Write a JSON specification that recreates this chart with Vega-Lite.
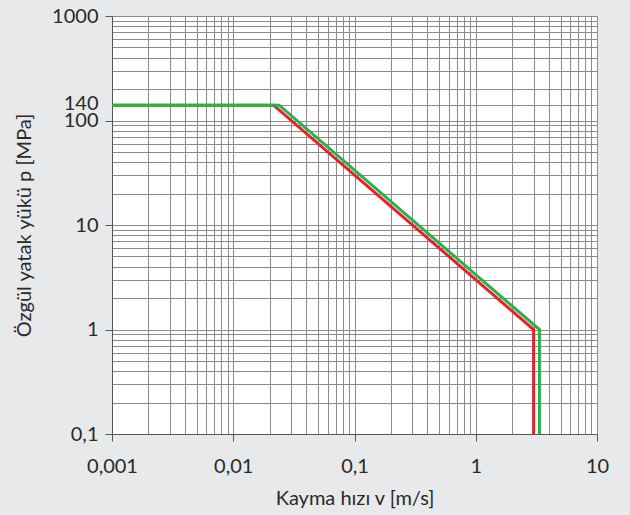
{
  "$schema": "https://vega.github.io/schema/vega-lite/v6.json",
  "autosize": "none",
  "width": 485,
  "height": 418,
  "padding": {"left": 112, "top": 16, "right": 33, "bottom": 81},
  "background": "#e8e9ea",
  "config": {
    "view": {"fill": "white", "stroke": null},
    "axis": {"labelFont": "Lato", "titleFont": "Lato", "labelFontSize": 20, "titleFontSize": 20, "labelColor": "#2a2a2a", "titleColor": "#2a2a2a", "titleFontWeight": "normal"}
  },
  "data": {"values": [
    {"v": 0.001, "p": 140, "s": "red"},
    {"v": 0.0215, "p": 140, "s": "red"},
    {"v": 3.0, "p": 1, "s": "red"},
    {"v": 3.0, "p": 0.1, "s": "red"},
    {"v": 0.001, "p": 140, "s": "green"},
    {"v": 0.0239, "p": 140, "s": "green"},
    {"v": 3.35, "p": 1, "s": "green"},
    {"v": 3.35, "p": 0.1, "s": "green"}
  ]},
  "mark": {"type": "line", "strokeWidth": 3, "clip": true},
  "encoding": {
    "x": {
      "field": "v", "type": "quantitative",
      "scale": {"type": "log", "domain": [0.001, 10], "nice": false},
      "axis": {
        "title": "Kayma hızı v [m/s]",
        "values": [0.001,0.002,0.003,0.004,0.005,0.006,0.007,0.008,0.009,0.01,0.02,0.03,0.04,0.05,0.06,0.07,0.08,0.09,0.1,0.2,0.3,0.4,0.5,0.6,0.7,0.8,0.9,1,2,3,4,5,6,7,8,9,10],
        "labelExpr": "abs(log(datum.value)/LN10 - round(log(datum.value)/LN10)) < 1e-6 ? replace(format(datum.value, ''), '.', ',') : ''",
        "grid": true, "gridColor": "#8c8c8c", "gridWidth": 1, "gridOpacity": 1,
        "domain": true, "domainColor": "#555", "domainWidth": 1,
        "ticks": true, "tickSize": 7, "tickColor": "#555",
        "tickOpacity": {"condition": {"test": "abs(log(datum.value)/LN10 - round(log(datum.value)/LN10)) < 1e-6", "value": 1}, "value": 0},
        "labelPadding": 15, "labelFlush": false, "labelOverlap": false,
        "titleY": 64, "titleBaseline": "middle"
      }
    },
    "y": {
      "field": "p", "type": "quantitative",
      "scale": {"type": "log", "domain": [0.1, 1000], "nice": false},
      "axis": {
        "title": "Özgül yatak yükü p [MPa]",
        "values": [0.1,0.2,0.3,0.4,0.5,0.6,0.7,0.8,0.9,1,2,3,4,5,6,7,8,9,10,20,30,40,50,60,70,80,90,100,140,200,300,400,500,600,700,800,900,1000],
        "labelExpr": "(abs(log(datum.value)/LN10 - round(log(datum.value)/LN10)) < 1e-6 || datum.value == 140) ? replace(format(datum.value, ''), '.', ',') : ''",
        "labelBaseline": {"condition": {"test": "datum.value == 140", "value": "alphabetic"}, "value": "middle"},
        "labelOffset": {"condition": {"test": "datum.value == 140", "value": 4}, "value": 0},
        "grid": true, "gridColor": "#8c8c8c", "gridWidth": 1, "gridOpacity": 1,
        "domain": true, "domainColor": "#555", "domainWidth": 1,
        "ticks": true, "tickSize": 7, "tickColor": "#555",
        "tickOpacity": {"condition": {"test": "abs(log(datum.value)/LN10 - round(log(datum.value)/LN10)) < 1e-6", "value": 1}, "value": 0},
        "labelPadding": 7, "labelFlush": false, "labelOverlap": false,
        "titleX": -88, "titleY": 209, "titleAngle": -90, "titleBaseline": "middle", "titleAlign": "center"
      }
    },
    "color": {
      "field": "s", "type": "nominal",
      "scale": {"domain": ["red", "green"], "range": ["#e8202a", "#2bb04a"]},
      "legend": null
    },
    "order": {"field": "s", "sort": "descending"}
  }
}
